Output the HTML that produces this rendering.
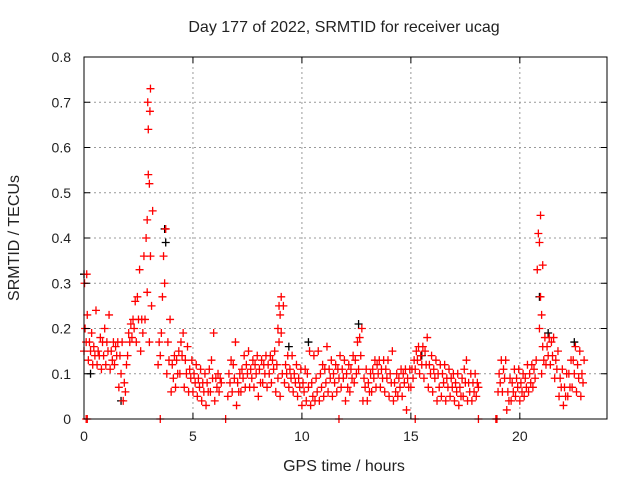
<!DOCTYPE html>
<html><head><meta charset="utf-8"><style>
body{margin:0;background:#fff}
svg text{font-family:"Liberation Sans",sans-serif;font-size:14px;fill:#222}
svg text.big{font-size:16px}
</style></head><body>
<svg id="chart" width="640" height="480" viewBox="0 0 640 480">
<rect width="640" height="480" fill="#fff"/>
<text class="big" x="344" y="32" text-anchor="middle">Day 177 of 2022, SRMTID for receiver ucag</text>
<text class="big" x="344" y="471" text-anchor="middle">GPS time / hours</text>
<text class="big" transform="translate(19,238) rotate(-90)" text-anchor="middle">SRMTID / TECUs</text>
<g id="grid"></g><g id="blk"></g><g id="red"></g><g id="axes"></g>
</svg>
<script>
const xTicks=[0,5,10,15,20];
const yTicks=[0,0.1,0.2,0.3,0.4,0.5,0.6,0.7,0.8];
const yTickLabels=["0","0.1","0.2","0.3","0.4","0.5","0.6","0.7","0.8"];
// red series: group start hour, then values in that group
const redHours=[0,0.2,0.4,0.6,0.8,1.0,1.2,1.4,1.6,1.8,2.0,2.2,2.4,2.6,2.8,2.9,3.0,3.4,3.6,3.8,4.0,4.2,4.4,4.6,4.8,5.0,5.2,5.4,5.6,5.8,6.0,6.2,6.6,6.8,7.0,7.2,7.4,7.6,7.8,8.0,8.2,8.4,8.6,8.8,8.9,9.0,9.2,9.4,9.6,9.8,10.0,10.2,10.4,10.6,10.8,11.0,11.2,11.4,11.6,11.8,12.0,12.2,12.4,12.6,12.8,13.0,13.2,13.4,13.6,13.8,14.0,14.2,14.4,14.6,14.8,15.0,15.2,15.4,15.6,15.8,16.0,16.2,16.4,16.6,16.8,17.0,17.2,17.4,17.6,17.8,18.0,19.0,19.2,19.4,19.6,19.8,20.0,20.2,20.4,20.6,20.8,20.9,21.0,21.2,21.4,21.6,21.8,22.0,22.2,22.4,22.6,22.8];
const redValues=[
[.15,.17,.20,.23,.30,.32],[.13,.15,.17,.19],[.12,.14,.16,.24],[.12,.14,.15,.18],[.11,.14,.17,.20],[.12,.15,.17,.23],[.11,.13,.15,.17],[.12,.14,.16,.17],[.07,.10,.14,.17],[.04,.06,.08,.12],
[.14,.17,.19,.21],[.18,.20,.22,.26],[.17,.22,.27,.33],[.15,.19,.22,.36],[.22,.28,.40,.54],[.44,.52,.64,.73,.70,.68],[.17,.25,.36,.46],[.12,.14,.17,.19],[.27,.30,.36,.42],[.10,.13,.17,.22],
[.06,.09,.12,.14],[.07,.10,.13,.15],[.10,.14,.17,.19],[.07,.10,.13,.16],[.06,.09,.11,.13],[.06,.08,.10,.12],[.05,.07,.09,.11],[.04,.06,.08,.10],[.03,.06,.08,.11],[.06,.09,.13,.19],
[.04,.07,.09,.10],[.06,.08,.09],[.05,.08,.10,.13],[.06,.09,.12,.17],[.03,.06,.08,.10],[.06,.09,.11,.14],[.07,.10,.12,.15],[.07,.09,.11,.13],[.07,.10,.12,.14],[.05,.08,.11,.13],
[.08,.10,.12,.14],[.07,.10,.12,.14],[.08,.11,.13,.15],[.06,.09,.12,.17],[.20,.23,.25,.27],[.05,.10,.19,.25],[.08,.10,.12,.14],[.07,.09,.11,.14],[.06,.08,.10,.12],[.05,.07,.09,.11],
[.03,.06,.08,.11],[.04,.07,.10,.15],[.03,.05,.08,.14],[.04,.06,.09,.15],[.04,.07,.10,.12],[.05,.08,.11,.16],[.06,.09,.11,.13],[.05,.08,.10,.12],[.06,.09,.11,.14],[.07,.09,.11,.13],
[.04,.07,.10,.12],[.06,.09,.11,.14],[.08,.10,.13,.17],[.11,.14,.18,.20],[.04,.07,.09,.11],[.04,.06,.08,.10],[.06,.09,.11,.13],[.07,.10,.12,.13],[.07,.09,.11,.13],[.06,.09,.11,.13],
[.05,.08,.10,.15],[.04,.06,.08,.10],[.05,.07,.09,.11],[.05,.08,.10,.11],[.02,.07,.09,.11],[.07,.09,.11,.13],[.11,.13,.15,.16],[.10,.12,.14,.16],[.09,.12,.15,.18],[.07,.10,.12,.14],
[.06,.09,.11,.13],[.04,.07,.10,.12],[.05,.08,.10,.12],[.04,.07,.09,.11],[.05,.07,.09,.10],[.04,.06,.08,.10],[.03,.05,.07,.09],[.05,.08,.11,.13],[.04,.06,.08,.10],[.04,.06,.08,.10],
[.05,.07,.08],[.06,.08,.10,.13],[.06,.09,.11,.13],[.02,.04,.06,.09],[.04,.06,.08,.11],[.05,.07,.09,.11],[.04,.06,.08,.10],[.05,.07,.09,.12],[.06,.08,.10,.12],[.07,.09,.11,.13],
[.33,.39,.41,.45],[.20,.23,.27,.34],[.10,.13,.16,.18],[.12,.14,.16,.18],[.12,.14,.17,.18],[.09,.11,.13,.15],[.05,.07,.09,.11],[.03,.05,.07,.10],[.05,.07,.10,.13],[.07,.10,.13,.16],
[.06,.09,.12,.15],[.05,.08,.10,.13]];
const zeroHours=[0.1,0.15,3.5,6.5,11.7,15.2,18.1,18.9,18.95];
const blackHours=[0.0,0.3,1.7,3.7,3.75,9.4,10.3,12.6,15.5,20.9,21.3,22.5];
const blackValues=[0.32,0.10,0.04,0.42,0.39,0.16,0.17,0.21,0.14,0.27,0.19,0.17];

const X0=84,X1=607,Y0=419,Y1=57,XMAX=24,YMAX=0.8;
const xs=h=>X0+h/XMAX*(X1-X0);
const ys=v=>Y0-v/YMAX*(Y0-Y1);
const NS="http://www.w3.org/2000/svg";
const offs=[0,0.1,0.05,0.15,0.025,0.125];
function mk(tag,parent){const e=document.createElementNS(NS,tag);document.getElementById(parent).appendChild(e);return e;}
xTicks.forEach(t=>{if(t===0)return;const l=mk('line','grid');l.setAttribute('x1',xs(t));l.setAttribute('x2',xs(t));l.setAttribute('y1',Y1);l.setAttribute('y2',Y0);l.setAttribute('stroke','#999');l.setAttribute('stroke-dasharray','2,3');

});
yTicks.forEach(t=>{if(t===0||t===0.8)return;const l=mk('line','grid');l.setAttribute('x1',X0);l.setAttribute('x2',X1);l.setAttribute('y1',ys(t));l.setAttribute('y2',ys(t));l.setAttribute('stroke','#999');l.setAttribute('stroke-dasharray','2,3');

});
function plus(g,h,v,col,name){const p=mk('path',g);const x=xs(h),y=ys(v);p.setAttribute('d',`M${x-4} ${y}H${x+4}M${x} ${y-4}V${y+4}`);p.setAttribute('stroke',col);p.setAttribute('stroke-width','1.3');p.setAttribute('fill','none');

}
blackHours.forEach((h,i)=>plus('blk',h,blackValues[i],'#000','black-point'));
redHours.forEach((h,i)=>{redValues[i].forEach((v,k)=>plus('red',h+offs[k],v,'#f00','red-point'));});
zeroHours.forEach(h=>plus('red',h,0,'#f00','zero-point'));
const f=mk('rect','axes');f.setAttribute('x',X0);f.setAttribute('y',Y1);f.setAttribute('width',X1-X0);f.setAttribute('height',Y0-Y1);f.setAttribute('fill','none');f.setAttribute('stroke','#000');


xTicks.forEach(t=>{const tx=mk('text','axes');tx.setAttribute('x',xs(t));tx.setAttribute('y',Y0+22);tx.setAttribute('text-anchor','middle');tx.textContent=t;


const l=mk('path','axes');l.setAttribute('d',`M${xs(t)} ${Y0}v-6M${xs(t)} ${Y1}v6`);l.setAttribute('stroke','#000');

});
yTicks.forEach((t,i)=>{const tx=mk('text','axes');tx.setAttribute('x',X0-13);tx.setAttribute('y',ys(t)+5);tx.setAttribute('text-anchor','end');tx.textContent=yTickLabels[i];


const l=mk('path','axes');l.setAttribute('d',`M${X0} ${ys(t)}h6M${X1} ${ys(t)}h-6`);l.setAttribute('stroke','#000');

});
</script>
</body></html>
